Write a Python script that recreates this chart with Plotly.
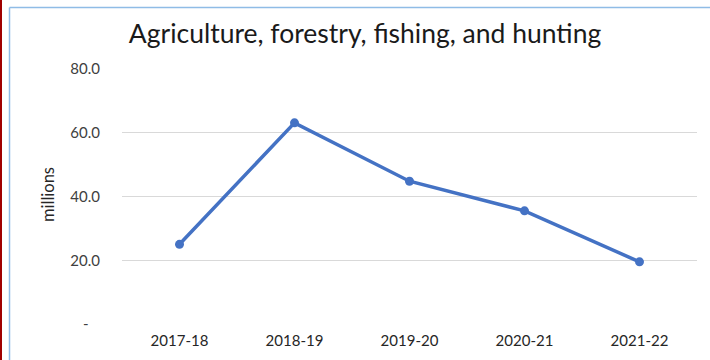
import plotly.graph_objects as go

# Fiscal years and values (millions)
years = ["2017-18", "2018-19", "2019-20", "2020-21", "2021-22"]
values = [25.0, 63.1, 44.8, 35.5, 19.5]

y_tickvals = [0, 20, 40, 60, 80]
y_ticktext = ["-\u00a0\u00a0\u00a0", "20.0", "40.0", "60.0", "80.0"]

W, H = 710, 360
ML, MR, MT, MB = 122, 13, 69, 36
PW = W - ML - MR
PH = H - MT - MB


def px_x(p):
    return (p - ML) / PW


def px_y(p):
    return 1 - (p - MT) / PH


FONT = "Lato, Calibri, Carlito, sans-serif"

fig = go.Figure()
fig.add_trace(go.Scatter(
    x=years, y=values, mode="lines+markers",
    line=dict(color="#4472C4", width=3.5),
    marker=dict(color="#4472C4", size=9),
    showlegend=False, hoverinfo="skip",
))

fig.update_layout(
    width=W, height=H,
    margin=dict(l=ML, r=MR, t=MT, b=MB),
    paper_bgcolor="white", plot_bgcolor="white",
    font=dict(family=FONT, color="#404040", size=15),
    title=dict(
        text="Agriculture, forestry, fishing, and hunting",
        font=dict(family=FONT, size=26.5, color="#1a1a1a"),
        x=365 / W, xref="container", xanchor="center",
        y=1 - 34 / H, yref="container", yanchor="middle",
    ),
    xaxis=dict(
        range=[-0.5, len(years) - 0.5],
        showgrid=False, showline=False, zeroline=False, ticks="",
        tickfont=dict(size=15, color="#262626"),
        ticklabelstandoff=6,
    ),
    yaxis=dict(
        range=[0, 80], tickvals=y_tickvals, ticktext=y_ticktext,
        showgrid=True, gridcolor="#D9D9D9", gridwidth=1,
        zeroline=False, showline=False, ticks="",
        tickfont=dict(size=15, color="#404040"),
        ticklabelstandoff=21,
    ),
    annotations=[dict(
        text="millions", textangle=-90, showarrow=False,
        xref="paper", yref="paper",
        x=px_x(48), y=px_y(195), xanchor="center", yanchor="middle",
        font=dict(family=FONT, size=16.5, color="#262626"),
    )],
    shapes=[
        # dark red page edge
        dict(type="line", xref="paper", yref="paper",
             x0=px_x(1), x1=px_x(1), y0=px_y(-5), y1=px_y(H + 5),
             line=dict(color="#A00000", width=2)),
        # light blue chart frame
        dict(type="line", xref="paper", yref="paper",
             x0=px_x(9.5), x1=px_x(9.5), y0=px_y(7.5), y1=px_y(H + 5),
             line=dict(color="#8FBCE6", width=1.5)),
        dict(type="line", xref="paper", yref="paper",
             x0=px_x(9.5), x1=px_x(W + 5), y0=px_y(7.5), y1=px_y(7.5),
             line=dict(color="#8FBCE6", width=1.5)),
    ],
)

fig.write_html("out.html")
